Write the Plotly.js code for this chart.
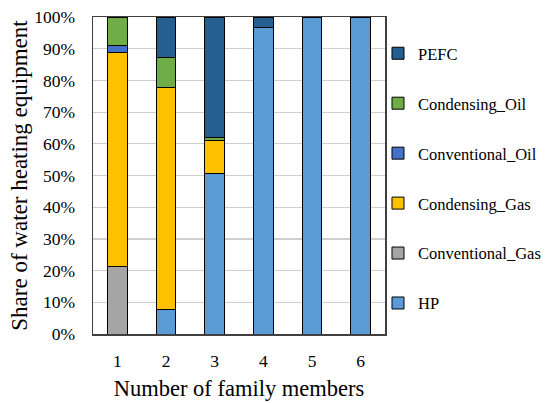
<!DOCTYPE html>
<html>
<head>
<meta charset="utf-8">
<script src="https://cdn.plot.ly/plotly-3.0.1.min.js"></script>
<style>html,body{margin:0;padding:0;background:#fff;}#chart{width:547px;height:403px;}</style>
</head>
<body>
<div id="chart"></div>
<script>
const categories = ['1', '2', '3', '4', '5', '6'];
const HP = [0, 7.8, 50.7, 96.7, 100, 100];
const Conventional_Gas = [21.4, 0, 0, 0, 0, 0];
const Condensing_Gas = [67.3, 70.1, 10.3, 0, 0, 0];
const Conventional_Oil = [2.4, 0, 0, 0, 0, 0];
const Condensing_Oil = [8.9, 9.4, 1.0, 0, 0, 0];
const PEFC = [0, 12.7, 38.0, 3.3, 0, 0];
const yTickVals = [0, 10, 20, 30, 40, 50, 60, 70, 80, 90, 100];
const yTickText = yTickVals.map(v => v + '%');

const seriesNames = ['HP', 'Conventional_Gas', 'Condensing_Gas', 'Conventional_Oil', 'Condensing_Oil', 'PEFC'];
const seriesValues = [HP, Conventional_Gas, Condensing_Gas, Conventional_Oil, Condensing_Oil, PEFC];
const seriesColors = ['#5B9BD5', '#A5A5A5', '#FFC000', '#4472C4', '#70AD47', '#255E91'];

const FONT = '"Liberation Serif", "Times New Roman", serif';

const traces = seriesNames.map((name, i) => ({
  type: 'bar',
  name: name,
  legendgroup: name,
  legendrank: seriesNames.length - i,
  x: categories,
  y: seriesValues[i],
  marker: {color: seriesColors[i], line: {color: '#000000', width: 1}},
  hoverinfo: 'skip'
}));

const layout = {
  width: 547, height: 403,
  margin: {l: 93, r: 162, t: 17, b: 69, autoexpand: false},
  barmode: 'stack',
  bargap: 0.6,
  paper_bgcolor: '#ffffff',
  plot_bgcolor: '#ffffff',
  font: {family: FONT, color: '#000000', size: 17},
  showlegend: true,
  legend: {
    x: 0.976, xanchor: 'left',
    y: 0.94, yanchor: 'top',
    traceorder: 'grouped',
    tracegroupgap: 25.5,
    font: {family: FONT, size: 16.5, color: '#000000'},
    bgcolor: 'rgba(0,0,0,0)'
  },
  xaxis: {
    type: 'category',
    showline: true, mirror: true, linecolor: '#404040', linewidth: 1.5,
    showgrid: false, ticks: '',
    tickfont: {family: FONT, size: 17.5, color: '#000000'},
    ticklabelstandoff: 10,
    title: {text: 'Number of family members', font: {family: FONT, size: 22.5}, standoff: 10}
  },
  yaxis: {
    range: [0, 100],
    tickmode: 'array',
    tickvals: yTickVals,
    ticktext: yTickText,
    showline: true, mirror: true, linecolor: '#404040', linewidth: 1.5,
    showgrid: true, gridcolor: '#cfcfcf', gridwidth: 1.2,
    zeroline: false, ticks: '',
    tickfont: {family: FONT, size: 17.5, color: '#000000'},
    ticklabelstandoff: 13,
    title: {text: 'Share of water heating equipment', font: {family: FONT, size: 23}, standoff: 0}
  }
};

Plotly.newPlot('chart', traces, layout, {staticPlot: true, displayModeBar: false});
</script>
</body>
</html>
